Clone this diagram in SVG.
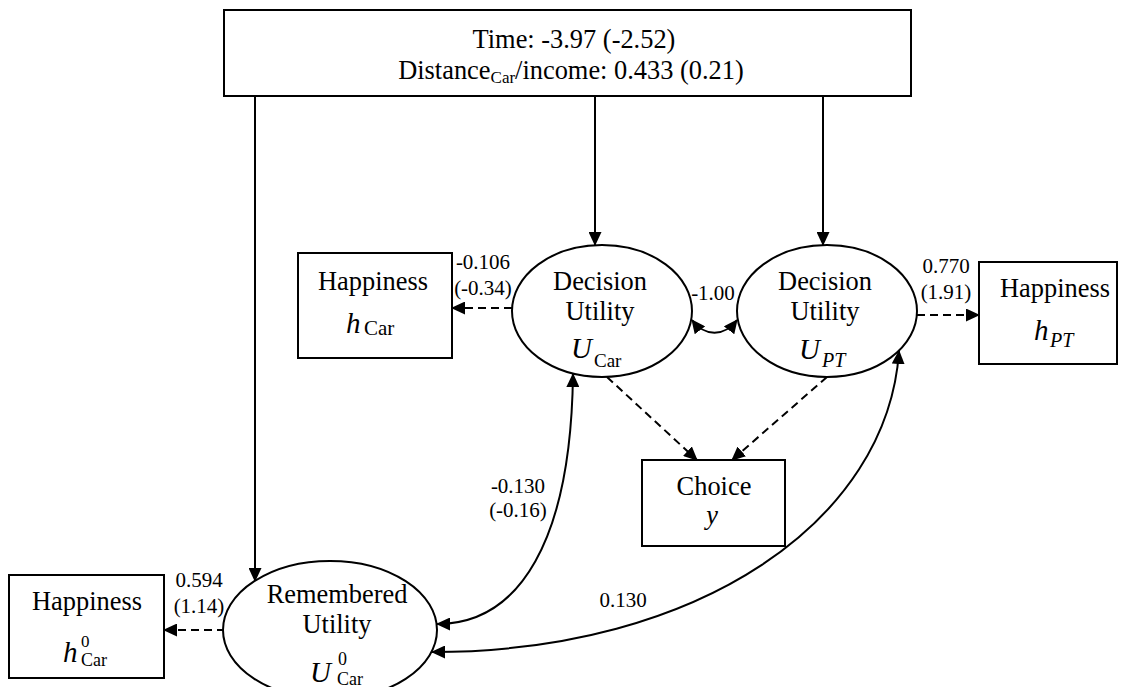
<svg xmlns="http://www.w3.org/2000/svg" width="1122" height="687" viewBox="0 0 1122 687" font-family="'Liberation Serif', 'DejaVu Serif', serif">
  <style>
    .shape { fill: #fff; stroke: #000; stroke-width: 2; }
    .t { font-family: 'Liberation Serif', 'DejaVu Serif', serif; font-size: 26.4px; fill: #000; text-anchor: middle; }
    .s { text-anchor: start; }
    .it { font-style: italic; }
    .lbl { font-family: 'Liberation Serif', 'DejaVu Serif', serif; font-size: 21px; fill: #000; text-anchor: middle; }
    .line { fill: none; stroke: #000; stroke-width: 2; }
    .dash { stroke-dasharray: 8 5; }
  </style>
  <defs>
    <marker id="arrow" viewBox="0 0 14 13" refX="13" refY="6.5" markerWidth="14" markerHeight="13" markerUnits="userSpaceOnUse" orient="auto-start-reverse">
      <path d="M0,0 L14,6.5 L0,13 Z" fill="#000"/>
    </marker>
  </defs>

  <rect width="1122" height="687" fill="#fff"/>

  <!-- connectors -->
  <g id="connectors">
    <path class="line" d="M255 96 V581" marker-end="url(#arrow)"/>
    <path class="line" d="M595 96 V245" marker-end="url(#arrow)"/>
    <path class="line" d="M823 96 V245" marker-end="url(#arrow)"/>
    <path class="line dash" d="M512 308 H452" marker-end="url(#arrow)"/>
    <path class="line dash" d="M917 315 H979" marker-end="url(#arrow)"/>
    <path class="line dash" d="M225 630 H164" marker-end="url(#arrow)"/>
    <path class="line dash" d="M607 377 L697 460" marker-end="url(#arrow)"/>
    <path class="line dash" d="M827 377 L732 460" marker-end="url(#arrow)"/>
    <path class="line" d="M692 320 C705 337 724 337 737 320" marker-start="url(#arrow)" marker-end="url(#arrow)"/>
    <path class="line" d="M573 374 C571 540 520 624 437 624" marker-start="url(#arrow)" marker-end="url(#arrow)"/>
    <path class="line" d="M899 351 C888 520 700 652 432 652" marker-start="url(#arrow)" marker-end="url(#arrow)"/>
  </g>

  <!-- path coefficients -->
  <g id="labels">
    <text class="lbl" x="483" y="269">-0.106</text>
    <text class="lbl" x="483" y="295">(-0.34)</text>
    <text class="lbl" x="946" y="273">0.770</text>
    <text class="lbl" x="946" y="299">(1.91)</text>
    <text class="lbl" x="713" y="300">-1.00</text>
    <text class="lbl" x="199" y="587">0.594</text>
    <text class="lbl" x="199" y="613">(1.14)</text>
    <text class="lbl" x="518" y="493">-0.130</text>
    <text class="lbl" x="518" y="517">(-0.16)</text>
    <text class="lbl" x="623" y="607">0.130</text>
  </g>

  <g id="covariates">
    <rect class="shape" x="224" y="10" width="687" height="86"/>
    <text class="t" x="574" y="48">Time: -3.97 (-2.52)</text>
    <text class="t" x="571" y="79">Distance<tspan font-size="17" dy="4">Car</tspan><tspan dy="-4">/income: 0.433 (0.21)</tspan></text>
  </g>

  <g id="happiness-car">
    <rect class="shape" x="298" y="253" width="154" height="105"/>
    <text class="t" x="373" y="290">Happiness</text>
    <text class="t s"><tspan class="it" x="346" y="333" font-size="29">h</tspan><tspan x="364" y="335" font-size="21">Car</tspan></text>
  </g>

  <g id="decision-car">
    <ellipse class="shape" cx="602" cy="311" rx="90" ry="66"/>
    <text class="t" x="600" y="290">Decision</text>
    <text class="t" x="600" y="320">Utility</text>
    <text class="t s"><tspan class="it" x="571" y="358" font-size="29">U</tspan><tspan x="594" y="367" font-size="19">Car</tspan></text>
  </g>

  <g id="decision-pt">
    <ellipse class="shape" cx="827" cy="311" rx="90" ry="66"/>
    <text class="t" x="825" y="290">Decision</text>
    <text class="t" x="825" y="320">Utility</text>
    <text class="t s it"><tspan x="799" y="359" font-size="29">U</tspan><tspan x="822" y="367" font-size="20">PT</tspan></text>
  </g>

  <g id="happiness-pt">
    <rect class="shape" x="979" y="262" width="138" height="102"/>
    <text class="t" x="1055" y="297">Happiness</text>
    <text class="t s it"><tspan x="1034" y="340" font-size="29">h</tspan><tspan x="1050" y="347" font-size="20">PT</tspan></text>
  </g>

  <g id="choice">
    <rect class="shape" x="642" y="460" width="143" height="86"/>
    <text class="t" x="714" y="495">Choice</text>
    <text class="t it" x="712" y="524" font-size="28">y</text>
  </g>

  <g id="remembered-car">
    <ellipse class="shape" cx="330" cy="630" rx="107" ry="69"/>
    <text class="t" x="337" y="603">Remembered</text>
    <text class="t" x="337" y="633">Utility</text>
    <text class="t s"><tspan class="it" x="310" y="682" font-size="29">U</tspan><tspan x="338" y="665" font-size="18">0</tspan><tspan x="337" y="685" font-size="18">Car</tspan></text>
  </g>

  <g id="happiness-car-remembered">
    <rect class="shape" x="9" y="575" width="155" height="103"/>
    <text class="t" x="87" y="610">Happiness</text>
    <text class="t s"><tspan class="it" x="63" y="662" font-size="29">h</tspan><tspan x="81" y="647" font-size="17">0</tspan><tspan x="81" y="666" font-size="18">Car</tspan></text>
  </g>
</svg>
